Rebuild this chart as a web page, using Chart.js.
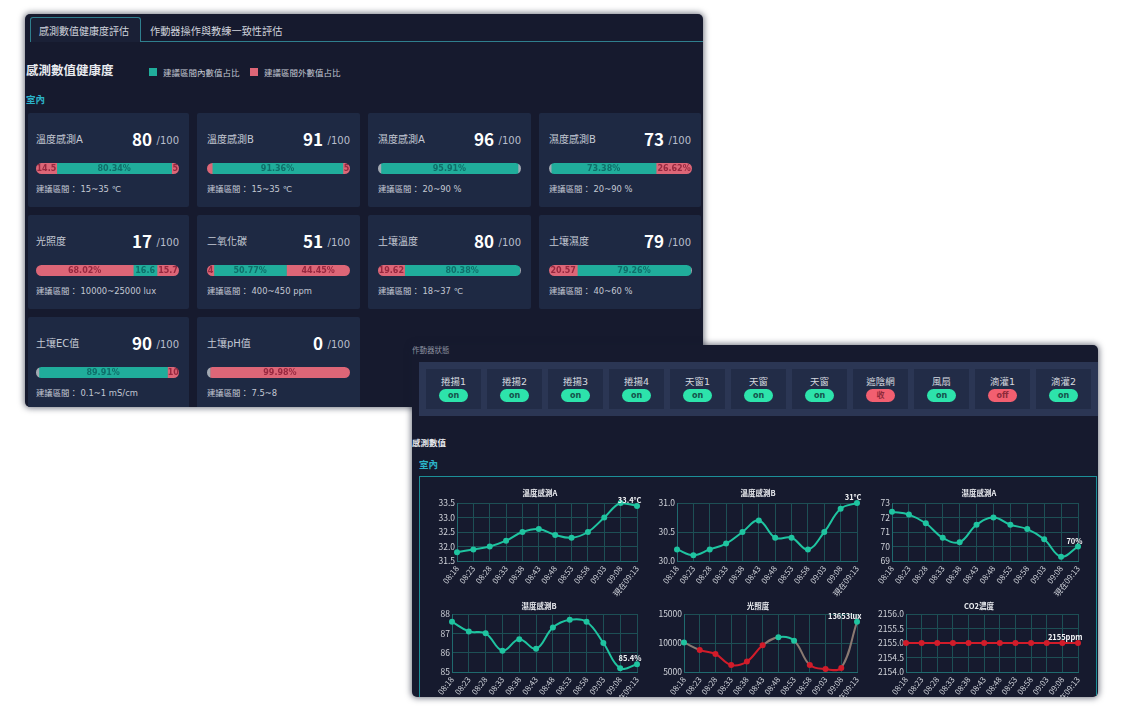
<!DOCTYPE html>
<html lang="zh-Hant">
<head>
<meta charset="utf-8">
<title>感測數值健康度</title>
<script src="https://cdn.jsdelivr.net/npm/chart.js@4"></script>
<style>
  html, body { margin: 0; background: #fff; overflow: hidden; }
  body { width: 1132px; height: 708px; position: relative; font-family: "DejaVu Sans", "Noto Sans CJK TC", sans-serif; color: #cfd3dc; filter: blur(0.4px); }
  div, span, canvas { position: absolute; white-space: nowrap; }
  .panel { background: #161a2e; overflow: hidden; border-radius: 5px; box-shadow: 0 0 6px 1px rgba(22,26,46,.6); }
  .card { height: 94px; background: #1e2943; border-radius: 2px; }
  .name { font-size: 10px; color: #c3c8d3; top: 18px; }
  .score { font-family: "Noto Sans CJK TC", sans-serif; font-size: 17px; line-height: 20px; font-weight: bold; color: #fff; right: 37px; top: 16px; }
  .outof { font-size: 10px; color: #b9becb; right: 10px; top: 22px; }
  .range { font-size: 8.4px; color: #c3c8d3; top: 69px; }
  .bar { width: 143px; height: 11px; top: 50px; border-radius: 6px; overflow: hidden; }
  .leg { width: 8px; height: 8px; }
  .legt { font-size: 8.5px; color: #c3c8d3; }
  .cell { width: 55px; height: 40px; top: 7px; background: #222c47; }
  .cell b { position: absolute; left: 0; width: 55px; text-align: center; top: 5px; font-size: 9.5px; font-weight: normal; color: #d5d8df; }
  .pill { left: 13px; width: 29px; height: 13px; top: 20px; border-radius: 7px; text-align: center; font-size: 8px; font-weight: bold; line-height: 13px; }
</style>
</head>
<body>
<div class="panel" id="p1" style="left:25px;top:14px;width:678px;height:393px"></div>
<div class="panel" id="p2" style="left:412px;top:345px;width:686px;height:352px"></div>

<script>
// health cards
const cardNames = ["溫度感測A", "溫度感測B", "濕度感測A", "濕度感測B", "光照度", "二氧化碳", "土壤溫度", "土壤濕度", "土壤EC值", "土壤pH值"];
const cardScores = [80, 91, 96, 73, 17, 51, 80, 79, 90, 0];
const cardRanges = ["15~35 ℃", "15~35 ℃", "20~90 %", "20~90 %", "10000~25000 lux", "400~450 ppm", "18~37 ℃", "40~60 %", "0.1~1 mS/cm", "7.5~8"];
const lowShare = [14.5, 3.64, 2, 1.5, 68.02, 4.78, 18.62, 19.8, 2, 2];
const inShare = [80.34, 91.36, 95.91, 73.38, 16.6, 50.77, 80.38, 79.26, 89.91, 0];
const highShare = [5.16, 5, 2.09, 26.62, 15.7, 44.45, 1, 0.94, 10, 99.98];
const lowText = ["14.5", "", "", "", "68.02%", "4", "19.62", "20.57", "", ""];
const inText = ["80.34%", "91.36%", "95.91%", "73.38%", "16.6", "50.77%", "80.38%", "79.26%", "89.91%", ""];
const highText = ["5", "5", "", "26.62%", "15.7", "44.45%", "", "", "10", "99.98%"];

// actuators
const actuatorNames = ["捲揚1", "捲揚2", "捲揚3", "捲揚4", "天窗1", "天窗", "天窗", "遮陰網", "風扇", "滴灌1", "滴灌2"];
const actuatorStates = ["on", "on", "on", "on", "on", "on", "on", "收", "on", "off", "on"];

// trends
const times = ["08:18", "08:23", "08:28", "08:33", "08:38", "08:43", "08:48", "08:53", "08:58", "09:03", "09:08", "現在09:13"];
const trendTitles = ["溫度感測A", "溫度感測B", "濕度感測A", "濕度感測B", "光照度", "CO2濃度"];
const trendUnits = ["°C", "°C", "%", "%", "lux", "ppm"];
const tempA = [31.8, 31.9, 32.0, 32.2, 32.5, 32.6, 32.4, 32.3, 32.5, 33.0, 33.5, 33.4];
const tempB = [30.2, 30.1, 30.2, 30.3, 30.5, 30.7, 30.4, 30.4, 30.2, 30.5, 30.9, 31];
const humA = [72.4, 72.2, 71.6, 70.6, 70.3, 71.5, 72, 71.5, 71.2, 70.5, 69.3, 70];
const humB = [87.6, 87.1, 87.0, 86.1, 86.7, 86.2, 87.3, 87.7, 87.6, 86.5, 85.2, 85.4];
const light = [10100, 8800, 8100, 6200, 6800, 9600, 11000, 10400, 6200, 5500, 5700, 13653];
const co2 = [2155, 2155, 2155, 2155, 2155, 2155, 2155, 2155, 2155, 2155, 2155, 2155];
const trendSeries = [tempA, tempB, humA, humB, light, co2];
const axisMin = [31.5, 30, 69, 85, 5000, 2154];
const axisMax = [33.5, 31, 73, 88, 15000, 2156];
const axisStep = [0.5, 0.5, 1, 1, 5000, 0.5];
const okLow = [15, 15, 20, 20, 10000, 400];
const okHigh = [35, 35, 90, 90, 25000, 450];

const TEAL = "#20ad9b", PINK = "#dd6677", GREY = "#a3a9b2";
const GREEN_LINE = "#1fc4a0", RED_LINE = "#d21c2a";
const FONT = '"DejaVu Sans", "Noto Sans CJK TC", sans-serif';
const CHART_FONT = '"Noto Sans CJK TC", sans-serif';

function el(parent, cls, text, css) {
  const d = document.createElement("div");
  if (cls) d.className = cls;
  if (text !== undefined) d.textContent = text;
  if (css) d.style.cssText = css;
  parent.appendChild(d);
  return d;
}

const p1 = document.getElementById("p1");
const p2 = document.getElementById("p2");

// panel 1 header (panel origin is 25,14)
el(p1, "", "", "left:5px;top:3px;width:109px;height:24px;border:1px solid #2f7f8e;border-bottom:none;border-radius:3px 3px 0 0;background:#1a2036;z-index:1");
el(p1, "", "", "left:5px;top:27px;width:673px;height:1px;background:#2f7f8e");
el(p1, "", "感測數值健康度評估", "left:14px;top:9px;font-size:10px;color:#cfd3dc;z-index:2");
el(p1, "", "作動器操作與教練一致性評估", "left:125px;top:9px;font-size:10.2px;color:#cfd3dc");
el(p1, "", "感測數值健康度", "left:1px;top:46px;font-size:12.5px;font-weight:bold;color:#e8eaef");
el(p1, "leg", "", "left:124px;top:54px;background:#20ad9b");
el(p1, "legt", "建議區間內數值占比", "left:138px;top:52px");
el(p1, "leg", "", "left:225px;top:54px;background:#dd6677");
el(p1, "legt", "建議區間外數值占比", "left:239px;top:52px");
el(p1, "", "室內", "left:1px;top:78px;font-size:9.5px;font-weight:bold;color:#2bb3c8");

const cardLeft = [3, 172, 343, 514];
const cardWidth = [161, 163, 163, 162];
const cardInset = [8, 10, 10, 10];
const cardTop = [99, 201, 303];

function barText(texts) {
  return {
    id: "barText",
    afterDatasetsDraw(chart) {
      const c = chart.ctx;
      c.save();
      c.font = "bold 8px " + FONT;
      c.textAlign = "center";
      c.textBaseline = "middle";
      chart.data.datasets.forEach((ds, i) => {
        const b = chart.getDatasetMeta(i).data[0];
        if (!texts[i]) return;
        const left = Math.min(b.x, b.base), right = Math.min(Math.max(b.x, b.base), chart.width);
        c.save();
        c.beginPath();
        c.rect(left, 0, right - left, chart.height);
        c.clip();
        c.fillStyle = i === 1 ? "#0f6f6a" : "#97283f";
        c.fillText(texts[i], (left + right) / 2, chart.height / 2 + 0.5);
        c.restore();
      });
      c.restore();
    }
  };
}

function edgeColor(v) {
  return v < 3 ? GREY : PINK;
}

cardNames.forEach((name, i) => {
  const col = i % 4;
  const inset = cardInset[col];
  const card = el(p1, "card", "", `left:${cardLeft[col]}px;top:${cardTop[Math.floor(i / 4)]}px;width:${cardWidth[col]}px`);
  el(card, "name", name, `left:${inset}px`);
  el(card, "score", cardScores[i]);
  el(card, "outof", "/100");
  el(card, "range", "建議區間： " + cardRanges[i], `left:${inset}px`);
  const wrap = el(card, "bar", "", `left:${inset}px`);
  const cv = document.createElement("canvas");
  cv.width = 143; cv.height = 11;
  cv.style.cssText = "left:0;top:0;width:143px;height:11px";
  wrap.appendChild(cv);
  new Chart(cv, {
    type: "bar",
    data: {
      labels: [name],
      datasets: [
        { data: [lowShare[i]], backgroundColor: edgeColor(lowShare[i]) },
        { data: [inShare[i]], backgroundColor: TEAL },
        { data: [highShare[i]], backgroundColor: edgeColor(highShare[i]) }
      ]
    },
    options: {
      indexAxis: "y",
      responsive: false,
      animation: false,
      barPercentage: 1,
      categoryPercentage: 1,
      layout: { padding: 0 },
      plugins: { legend: { display: false }, tooltip: { enabled: false } },
      scales: {
        x: { stacked: true, min: 0, max: 100, display: false },
        y: { stacked: true, display: false }
      }
    },
    plugins: [barText([lowText[i], inText[i], highText[i]])]
  });
});

// panel 2 (origin 412,345)
el(p2, "", "作動器狀態", "left:0;top:-1px;font-size:7.5px;color:#8f94a2");
const strip = el(p2, "", "", "left:7px;top:17px;width:679px;height:54px;background:#2b3654");
actuatorNames.forEach((name, i) => {
  const cell = el(strip, "cell", "", `left:${7 + 61 * i}px`);
  const label = document.createElement("b");
  label.textContent = name;
  cell.appendChild(label);
  const on = actuatorStates[i] === "on";
  el(cell, "pill", actuatorStates[i], `background:${on ? "#2de3ab" : "#f25f70"};color:${on ? "#14524a" : "#8e2a3a"}`);
});
el(p2, "", "感測數值", "left:0;top:91px;font-size:8.5px;font-weight:bold;color:#e8eaef");
el(p2, "", "室內", "left:7px;top:112px;font-size:9.5px;font-weight:bold;color:#2bb3c8");
el(p2, "", "", "left:7px;top:131px;width:676px;height:230px;border:1.5px solid #1c8f98");

// plot area of each trend, page coordinates
const plotLeft = [457, 677, 892, 452, 684, 906];
const plotRight = [637, 857, 1078, 637, 857, 1078];
const plotTop = [503, 503, 503, 614, 614, 614];
const titleCenter = [540, 758, 979, 539, 758, 979];
const titleTop = [488, 488, 488, 601, 601, 601];
const plotHeight = 58;

const lastLabel = {
  id: "lastLabel",
  afterDatasetsDraw(chart, args, opts) {
    const pts = chart.getDatasetMeta(0).data;
    const last = pts[pts.length - 1];
    const c = chart.ctx;
    c.save();
    c.font = "bold 7.5px " + CHART_FONT;
    c.fillStyle = "#f2f3f6";
    c.textAlign = "right";
    c.textBaseline = "bottom";
    c.fillText(opts.text, last.x + 4.5, last.y - 2);
    c.restore();
  }
};

trendTitles.forEach((title, i) => {
  const data = trendSeries[i];
  const ok = v => v >= okLow[i] && v <= okHigh[i];
  const cv = document.createElement("canvas");
  const canvasLeft = i % 3 === 0 ? 419 : i % 3 === 1 ? 645 : 865;
  const canvasTop = plotTop[i] - 15;
  const yWidth = plotLeft[i] - canvasLeft;
  const cw = plotRight[i] - canvasLeft + 12;
  cv.width = cw; cv.height = 110;
  cv.style.cssText = `left:${canvasLeft - 412}px;top:${canvasTop - 345}px;width:${cw}px;height:110px;z-index:2`;
  p2.appendChild(cv);
  new Chart(cv, {
    type: "line",
    data: {
      labels: times,
      datasets: [{
        data,
        tension: 0.4,
        borderWidth: 2,
        pointRadius: 3,
        pointBorderWidth: 0,
        clip: false,
        pointBackgroundColor: data.map(v => ok(v) ? GREEN_LINE : RED_LINE),
        borderColor: GREEN_LINE,
        segment: {
          borderColor: s => {
            const a = ok(s.p0.parsed.y), b = ok(s.p1.parsed.y);
            if (a && b) return GREEN_LINE;
            if (!a && !b) return RED_LINE;
            return "#8a7a72";
          }
        }
      }]
    },
    options: {
      responsive: false,
      animation: false,
      layout: { padding: { top: 15, right: 12, bottom: 0, left: 0 } },
      plugins: {
        legend: { display: false },
        tooltip: { enabled: false },
        title: { display: false },
        lastLabel: { text: data[data.length - 1] + trendUnits[i] }
      },
      scales: {
        x: {
          offset: false,
          afterFit: a => { a.height = 110 - 15 - plotHeight; },
          grid: { color: "#1d4f55", lineWidth: 1, drawTicks: false },
          border: { color: "#1f6a6e" },
          ticks: { color: "#d0d3da", font: { size: 8, family: CHART_FONT }, maxRotation: 52, minRotation: 52, autoSkip: false, padding: 3 }
        },
        y: {
          min: axisMin[i],
          max: axisMax[i],
          afterFit: a => { a.width = yWidth; },
          grid: { color: "#1d4f55", lineWidth: 1, drawTicks: false },
          border: { color: "#1f6a6e" },
          ticks: {
            color: "#d0d3da", font: { size: 8.5, family: CHART_FONT }, padding: 2, stepSize: axisStep[i],
            callback: v => axisStep[i] === 0.5 ? v.toFixed(1) : String(v)
          }
        }
      }
    },
    plugins: [lastLabel]
  });
  el(p2, "", title, `left:${titleCenter[i] - 412 - 40}px;top:${titleTop[i] - 345 - 1}px;width:80px;text-align:center;font-size:7.5px;font-weight:bold;color:#eceef2;z-index:3;font-family:${CHART_FONT.replace(/"/g, "'")}`);
});
</script>
</body>
</html>
